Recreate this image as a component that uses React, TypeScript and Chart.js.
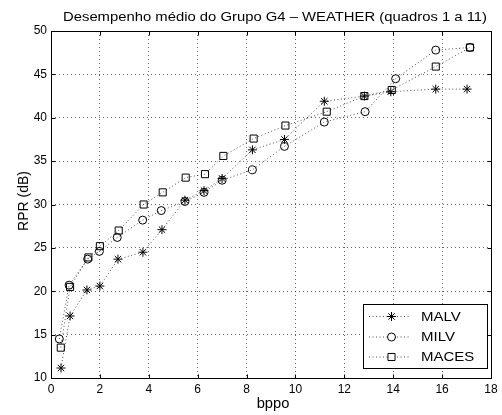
import React, { useEffect, useRef } from 'react';
import { Chart, registerables } from 'chart.js';
import { drawPoint } from 'chart.js/helpers';

Chart.register(...registerables);

const chartTitle = 'Desempenho médio do Grupo G4 – WEATHER (quadros 1 a 11)';
const xAxisLabel = 'bppo';
const yAxisLabel = 'RPR (dB)';
const seriesNames = ['MALV', 'MILV', 'MACES'];
const seriesMarkers = ['star', 'circle', 'rect'];
const xTickValues = [0, 2, 4, 6, 8, 10, 12, 14, 16, 18];
const yTickValues = [10, 15, 20, 25, 30, 35, 40, 45, 50];

const malvX = [0.41, 0.78, 1.47, 2.0, 2.74, 3.76, 4.54, 5.48, 6.26, 7.0, 8.24, 9.55, 11.18, 12.82, 13.9, 15.74, 17.02];
const malvY = [11.15, 17.15, 20.15, 20.6, 23.7, 24.5, 27.1, 30.5, 31.6, 33.0, 36.3, 37.5, 41.9, 42.5, 43.0, 43.3, 43.3];
const milvX = [0.34, 0.74, 1.5, 1.98, 2.71, 3.75, 4.51, 5.48, 6.26, 7.0, 8.24, 9.55, 11.18, 12.85, 14.1, 15.74, 17.14];
const milvY = [14.5, 20.7, 23.7, 24.6, 26.2, 28.2, 29.3, 30.35, 31.4, 32.8, 34.0, 36.7, 39.5, 40.7, 44.5, 47.8, 48.1];
const macesX = [0.4, 0.78, 1.53, 2.0, 2.77, 3.79, 4.57, 5.51, 6.3, 7.05, 8.29, 9.59, 11.28, 12.82, 13.94, 15.74, 17.14];
const macesY = [13.5, 20.5, 23.9, 25.2, 27.0, 30.0, 31.4, 33.1, 33.5, 35.6, 37.6, 39.1, 40.7, 42.5, 43.2, 45.9, 48.1];

const TEXT_FONT = '"Liberation Sans", Arial, sans-serif';
const markerRadius: Record<string, number> = { star: 4.5, circle: 4, rect: 5 };

function zip(xs: number[], ys: number[]) {
  return xs.map((x, i) => ({ x, y: ys[i] }));
}

function stretchedText(ctx: CanvasRenderingContext2D, text: string, x: number, y: number, sx: number) {
  ctx.save();
  ctx.translate(x, y);
  ctx.scale(sx, 1);
  ctx.fillText(text, 0, 0);
  ctx.restore();
}

const decorPlugin = {
  id: 'matlabDecor',
  afterDraw(chart: any) {
    const ctx = chart.ctx as CanvasRenderingContext2D;
    const ca = chart.chartArea;
    const xs = chart.scales.x;
    const ys = chart.scales.y;
    const L = Math.round(ca.left) + 0.5;
    const R = Math.round(ca.right) + 0.5;
    const T = Math.round(ca.top) + 0.5;
    const B = Math.round(ca.bottom) + 0.5;
    ctx.save();
    ctx.strokeStyle = '#000';
    ctx.lineWidth = 1;
    ctx.setLineDash([]);
    ctx.strokeRect(L, T, R - L, B - T);
    const tl = 4;
    ctx.beginPath();
    xTickValues.forEach((v) => {
      const px = Math.round(xs.getPixelForValue(v)) + 0.5;
      ctx.moveTo(px, B);
      ctx.lineTo(px, B - tl);
      ctx.moveTo(px, T);
      ctx.lineTo(px, T + tl);
    });
    yTickValues.forEach((v) => {
      const py = Math.round(ys.getPixelForValue(v)) + 0.5;
      ctx.moveTo(L, py);
      ctx.lineTo(L + tl, py);
      ctx.moveTo(R, py);
      ctx.lineTo(R - tl, py);
    });
    ctx.stroke();

    // title
    ctx.fillStyle = '#000';
    ctx.font = `12.5px ${TEXT_FONT}`;
    ctx.textAlign = 'center';
    ctx.textBaseline = 'alphabetic';
    const tw = ctx.measureText(chartTitle).width;
    stretchedText(ctx, chartTitle, 275, 21, 424 / tw);
    // x label
    ctx.font = `14px ${TEXT_FONT}`;
    stretchedText(ctx, xAxisLabel, 273, 408, 1.05);
    // y label
    ctx.save();
    ctx.translate(28, 201);
    ctx.rotate(-Math.PI / 2);
    ctx.scale(1, 1.1);
    ctx.fillText(yAxisLabel, 0, 0);
    ctx.restore();

    // legend
    const bx = 363.5, by = 304.5, bw = 124, bh = 64;
    ctx.fillStyle = '#fff';
    ctx.fillRect(bx, by, bw, bh);
    ctx.strokeStyle = '#000';
    ctx.lineWidth = 1;
    ctx.strokeRect(bx, by, bw, bh);
    const rowsY = [316, 336.5, 356.5];
    chart.data.datasets.forEach((ds: any, i: number) => {
      const y = rowsY[i];
      ctx.save();
      ctx.strokeStyle = ds.borderColor;
      ctx.lineWidth = ds.borderWidth;
      ctx.setLineDash(ds.borderDash);
      ctx.beginPath();
      ctx.moveTo(369, y + 0.5);
      ctx.lineTo(411, y + 0.5);
      ctx.stroke();
      ctx.restore();
      ctx.save();
      ctx.strokeStyle = '#000';
      ctx.fillStyle = '#fff';
      ctx.lineWidth = 1;
      ctx.setLineDash([]);
      drawPoint(ctx, { pointStyle: ds.pointStyle, radius: ds.pointRadius, rotation: 0, borderWidth: 1 } as any, 391.5, y + 0.5);
      ctx.restore();
      ctx.fillStyle = '#000';
      ctx.font = `12.5px ${TEXT_FONT}`;
      ctx.textAlign = 'left';
      ctx.textBaseline = 'alphabetic';
      stretchedText(ctx, ds.label, 421, y + 4.8, 1.2);
    });
    ctx.restore();
  },
};

export default function App() {
  const ref = useRef<HTMLCanvasElement | null>(null);
  useEffect(() => {
    if (!ref.current) return;
    const seriesData = [zip(malvX, malvY), zip(milvX, milvY), zip(macesX, macesY)];
    const chart = new Chart(ref.current, {
      type: 'line',
      data: {
        datasets: seriesData.map((d, i) => ({
          label: seriesNames[i],
          data: d,
          showLine: true,
          tension: 0,
          borderColor: 'rgba(0,0,0,0.7)',
          borderWidth: 1,
          borderDash: [1, 2.5],
          pointStyle: seriesMarkers[i] as any,
          pointRadius: markerRadius[seriesMarkers[i]],
          pointHoverRadius: markerRadius[seriesMarkers[i]],
          pointBorderColor: '#000',
          pointBackgroundColor: 'rgba(0,0,0,0)',
          pointBorderWidth: 1,
        })),
      },
      options: {
        responsive: false,
        animation: false,
        events: [],
        layout: { padding: { left: 0, right: 11, top: 31, bottom: 0 } },
        plugins: {
          legend: { display: false },
          title: { display: false },
          tooltip: { enabled: false },
        },
        scales: {
          x: {
            type: 'linear',
            min: 0,
            max: 18,
            afterFit: (s: any) => { s.height = 37; },
            afterBuildTicks: (s: any) => { s.ticks = xTickValues.map((v) => ({ value: v })); },
            ticks: { font: { family: TEXT_FONT, size: 12 }, color: '#000', padding: 4, maxRotation: 0 },
            grid: { color: 'rgba(0,0,0,0.6)', lineWidth: 1, drawTicks: false },
            border: { display: false, dash: [1, 3] },
          },
          y: {
            type: 'linear',
            min: 10,
            max: 50,
            afterFit: (s: any) => { s.width = 51; },
            afterBuildTicks: (s: any) => { s.ticks = yTickValues.map((v) => ({ value: v })); },
            ticks: { font: { family: TEXT_FONT, size: 12 }, color: '#000', padding: 4 },
            grid: { color: 'rgba(0,0,0,0.6)', lineWidth: 1, drawTicks: false },
            border: { display: false, dash: [1, 3] },
          },
        },
      },
      plugins: [decorPlugin],
    });
    return () => chart.destroy();
  }, []);
  return (
    <div style={{ position: 'fixed', left: 0, top: 0, width: 502, height: 415, background: '#fff' }}>
      <canvas ref={ref} width={502} height={415} style={{ width: 502, height: 415 }} />
    </div>
  );
}
